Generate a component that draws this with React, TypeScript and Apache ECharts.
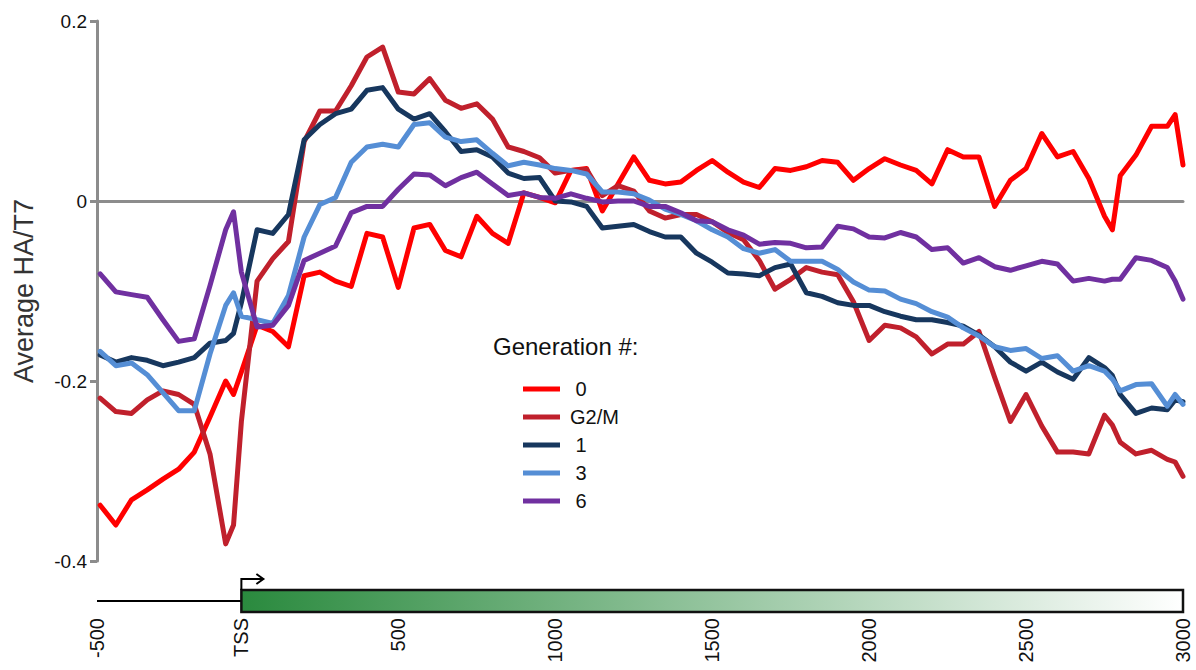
import React, { useEffect, useRef } from "react";
import * as echarts from "echarts";

// positions along the gene (bp relative to TSS)
const xs = [
  -450, -400, -350, -300, -250, -200, -150, -100, -50, -25,
  0, 50, 100, 150, 200, 250, 300, 350, 400, 450,
  500, 550, 600, 650, 700, 750, 800, 850, 900, 950,
  1000, 1050, 1100, 1150, 1200, 1250, 1300, 1350, 1400, 1450,
  1500, 1550, 1600, 1650, 1700, 1750, 1800, 1850, 1900, 1950,
  2000, 2050, 2100, 2150, 2200, 2250, 2300, 2350, 2400, 2450,
  2500, 2550, 2600, 2650, 2700, 2750, 2775, 2800, 2850, 2900,
  2950, 2975, 3000,
];

const gen0 = [
  -0.338, -0.36, -0.332, -0.321, -0.309, -0.298, -0.279, -0.24, -0.2, -0.215,
  -0.19, -0.138, -0.145, -0.162, -0.083, -0.079, -0.089, -0.095, -0.036, -0.04,
  -0.096, -0.03, -0.026, -0.055, -0.062, -0.017, -0.036, -0.047, 0.009, 0.004,
  -0.002, 0.034, 0.036, -0.011, 0.019, 0.049, 0.023, 0.019, 0.021, 0.034,
  0.045, 0.032, 0.021, 0.015, 0.036, 0.034, 0.038, 0.045, 0.043, 0.023,
  0.036, 0.047, 0.04, 0.034, 0.019, 0.057, 0.049, 0.049, -0.006, 0.023,
  0.036, 0.075, 0.049, 0.055, 0.025, -0.017, -0.032, 0.028, 0.051, 0.083,
  0.083, 0.096, 0.04,
];

const genG2M = [
  -0.219, -0.234, -0.236, -0.221, -0.211, -0.215, -0.226, -0.281, -0.381, -0.36,
  -0.245, -0.089, -0.064, -0.045, 0.066, 0.1, 0.1, 0.128, 0.16, 0.171,
  0.121, 0.119, 0.136, 0.112, 0.103, 0.108, 0.091, 0.06, 0.055, 0.048,
  0.031, 0.034, 0.035, 0.006, 0.017, 0.011, -0.011, -0.019, -0.015, -0.015,
  -0.023, -0.035, -0.043, -0.066, -0.098, -0.087, -0.074, -0.079, -0.082, -0.112,
  -0.155, -0.138, -0.141, -0.151, -0.17, -0.159, -0.159, -0.145, -0.196, -0.245,
  -0.215, -0.25, -0.279, -0.279, -0.281, -0.238, -0.249, -0.268, -0.281, -0.277,
  -0.287, -0.29, -0.306,
];

const gen1 = [
  -0.171, -0.179, -0.174, -0.177, -0.183, -0.179, -0.174, -0.158, -0.155, -0.147,
  -0.113, -0.032, -0.036, -0.015, 0.068, 0.085, 0.097, 0.102, 0.123, 0.126,
  0.102, 0.091, 0.097, 0.077, 0.055, 0.057, 0.049, 0.031, 0.025, 0.026,
  0, -0.001, -0.006, -0.03, -0.028, -0.026, -0.034, -0.04, -0.04, -0.058,
  -0.068, -0.08, -0.081, -0.083, -0.074, -0.07, -0.102, -0.106, -0.113, -0.116,
  -0.116, -0.123, -0.128, -0.132, -0.132, -0.135, -0.139, -0.149, -0.162, -0.179,
  -0.189, -0.179, -0.19, -0.198, -0.174, -0.185, -0.194, -0.215, -0.236, -0.23,
  -0.232, -0.221, -0.223,
];

const gen3 = [
  -0.167, -0.183, -0.18, -0.193, -0.213, -0.233, -0.233, -0.17, -0.116, -0.102,
  -0.128, -0.132, -0.136, -0.105, -0.04, -0.004, 0.004, 0.043, 0.06, 0.063,
  0.06, 0.085, 0.087, 0.071, 0.066, 0.068, 0.053, 0.039, 0.043, 0.04,
  0.036, 0.034, 0.03, 0.01, 0.01, 0.008, 0.001, -0.009, -0.015, -0.022,
  -0.032, -0.04, -0.053, -0.058, -0.054, -0.067, -0.067, -0.067, -0.076, -0.09,
  -0.099, -0.1, -0.109, -0.114, -0.123, -0.129, -0.141, -0.15, -0.162, -0.166,
  -0.164, -0.175, -0.172, -0.189, -0.183, -0.189, -0.198, -0.211, -0.204, -0.203,
  -0.228, -0.215, -0.226,
];

const gen6 = [
  -0.081, -0.101, -0.104, -0.107, -0.132, -0.156, -0.153, -0.094, -0.032, -0.012,
  -0.079, -0.14, -0.138, -0.116, -0.066, -0.058, -0.05, -0.013, -0.006, -0.006,
  0.013, 0.03, 0.029, 0.017, 0.026, 0.032, 0.019, 0.006, 0.009, 0.004,
  0.003, 0.008, 0.003, -0.001, 0, 0, -0.006, -0.006, -0.013, -0.022,
  -0.023, -0.032, -0.038, -0.048, -0.046, -0.047, -0.052, -0.051, -0.028, -0.031,
  -0.04, -0.041, -0.035, -0.04, -0.054, -0.052, -0.069, -0.063, -0.073, -0.077,
  -0.072, -0.067, -0.07, -0.089, -0.086, -0.089, -0.087, -0.087, -0.063, -0.066,
  -0.074, -0.089, -0.109,
];

const seriesNames = ["0", "G2/M", "1", "3", "6"];
const seriesValues = [gen0, genG2M, gen1, gen3, gen6];
const seriesColors = ["#ff0000", "#c0202c", "#17375e", "#558ed5", "#7030a0"];

const xAxisMin = -460;
const xAxisMax = 3000;
const xTickValues = [-460, 0, 500, 1000, 1500, 2000, 2500, 3000];
const xTickLabels = ["-500", "TSS", "500", "1000", "1500", "2000", "2500", "3000"];

const FONT = 'Arial, "Liberation Sans", Helvetica, sans-serif';

export default function App() {
  const ref = useRef<HTMLDivElement>(null);

  useEffect(() => {
    document.body.style.margin = "0";
    if (!ref.current) return;
    const chart = echarts.init(ref.current, null, { renderer: "svg" });

    const option: any = {
      animation: false,
      backgroundColor: "#ffffff",
      textStyle: { fontFamily: FONT },
      title: {
        text: "Generation #:",
        left: 488,
        top: 329,
        textStyle: { fontSize: 24, fontWeight: "normal", color: "#111", fontFamily: FONT },
      },
      legend: {
        orient: "vertical",
        left: 518,
        top: 374,
        icon: "rect",
        itemWidth: 37,
        itemHeight: 5,
        itemGap: 8,
        data: seriesNames,
        formatter: (n: string) => (n.length === 1 ? " " + n : n),
        textStyle: { fontSize: 20, color: "#111", fontFamily: FONT, padding: [0, 0, 0, 5] },
      },
      grid: { left: 97, right: 13, top: 21, bottom: 109 },
      xAxis: [
        {
          type: "value",
          min: xAxisMin,
          max: xAxisMax,
          axisLine: { show: true, onZero: true, lineStyle: { color: "#8c8c8c", width: 3 } },
          axisTick: { show: false },
          axisLabel: { show: false },
          splitLine: { show: false },
        },
        {
          type: "value",
          min: xAxisMin,
          max: xAxisMax,
          position: "bottom",
          axisLine: { show: false, onZero: false },
          axisTick: { show: false },
          splitLine: { show: false },
          axisLabel: {
            customValues: xTickValues,
            formatter: (v: number) => {
              const i = xTickValues.indexOf(v);
              return i >= 0 ? xTickLabels[i] : "";
            },
            rotate: 90,
            margin: 57,
            fontSize: 20,
            color: "#111",
            fontFamily: FONT,
          },
        },
      ],
      yAxis: {
        type: "value",
        min: -0.4,
        max: 0.2,
        interval: 0.2,
        name: "Average HA/T7",
        nameLocation: "middle",
        nameGap: 60,
        nameTextStyle: { fontSize: 27, color: "#333", fontFamily: FONT },
        axisLine: { show: true, onZero: false, lineStyle: { color: "#8c8c8c", width: 3 } },
        axisTick: { show: true, length: 7, lineStyle: { color: "#8c8c8c", width: 3 } },
        axisLabel: {
          fontSize: 19,
          color: "#111",
          margin: 10,
          fontFamily: FONT,
          formatter: (v: number) => String(Math.round(v * 10) / 10),
        },
        splitLine: { show: false },
      },
      series: seriesNames.map((name, i) => ({
        name,
        type: "line",
        xAxisIndex: 0,
        showSymbol: false,
        symbol: "none",
        lineStyle: { color: seriesColors[i], width: 5, join: "round", cap: "round" },
        itemStyle: { color: seriesColors[i] },
        data: xs.map((x, j) => [x, seriesValues[i][j]]),
      })),
    };

    chart.setOption(option);

    const x0 = chart.convertToPixel({ xAxisIndex: 0 }, 0) as number;
    const xL = chart.convertToPixel({ xAxisIndex: 0 }, xAxisMin) as number;
    const xR = chart.convertToPixel({ xAxisIndex: 0 }, xAxisMax) as number;

    chart.setOption({
      graphic: [
        {
          type: "line",
          shape: { x1: xL, y1: 601, x2: x0, y2: 601 },
          style: { stroke: "#000", lineWidth: 2 },
        },
        {
          type: "rect",
          shape: { x: x0, y: 590, width: xR - x0, height: 22 },
          style: {
            fill: new echarts.graphic.LinearGradient(0, 0, 1, 0, [
              { offset: 0, color: "#2a8a3e" },
              { offset: 1, color: "#ffffff" },
            ]),
            stroke: "#111",
            lineWidth: 2.5,
          },
        },
        {
          type: "polyline",
          shape: { points: [[x0, 590], [x0, 579], [x0 + 22, 579]] },
          style: { stroke: "#000", lineWidth: 2, fill: "none" },
        },
        {
          type: "polyline",
          shape: { points: [[x0 + 15, 574], [x0 + 22, 579], [x0 + 15, 584]] },
          style: { stroke: "#000", lineWidth: 2, fill: "none" },
        },
      ],
    });

    return () => chart.dispose();
  }, []);

  return <div ref={ref} style={{ width: 1196, height: 670 }} />;
}
